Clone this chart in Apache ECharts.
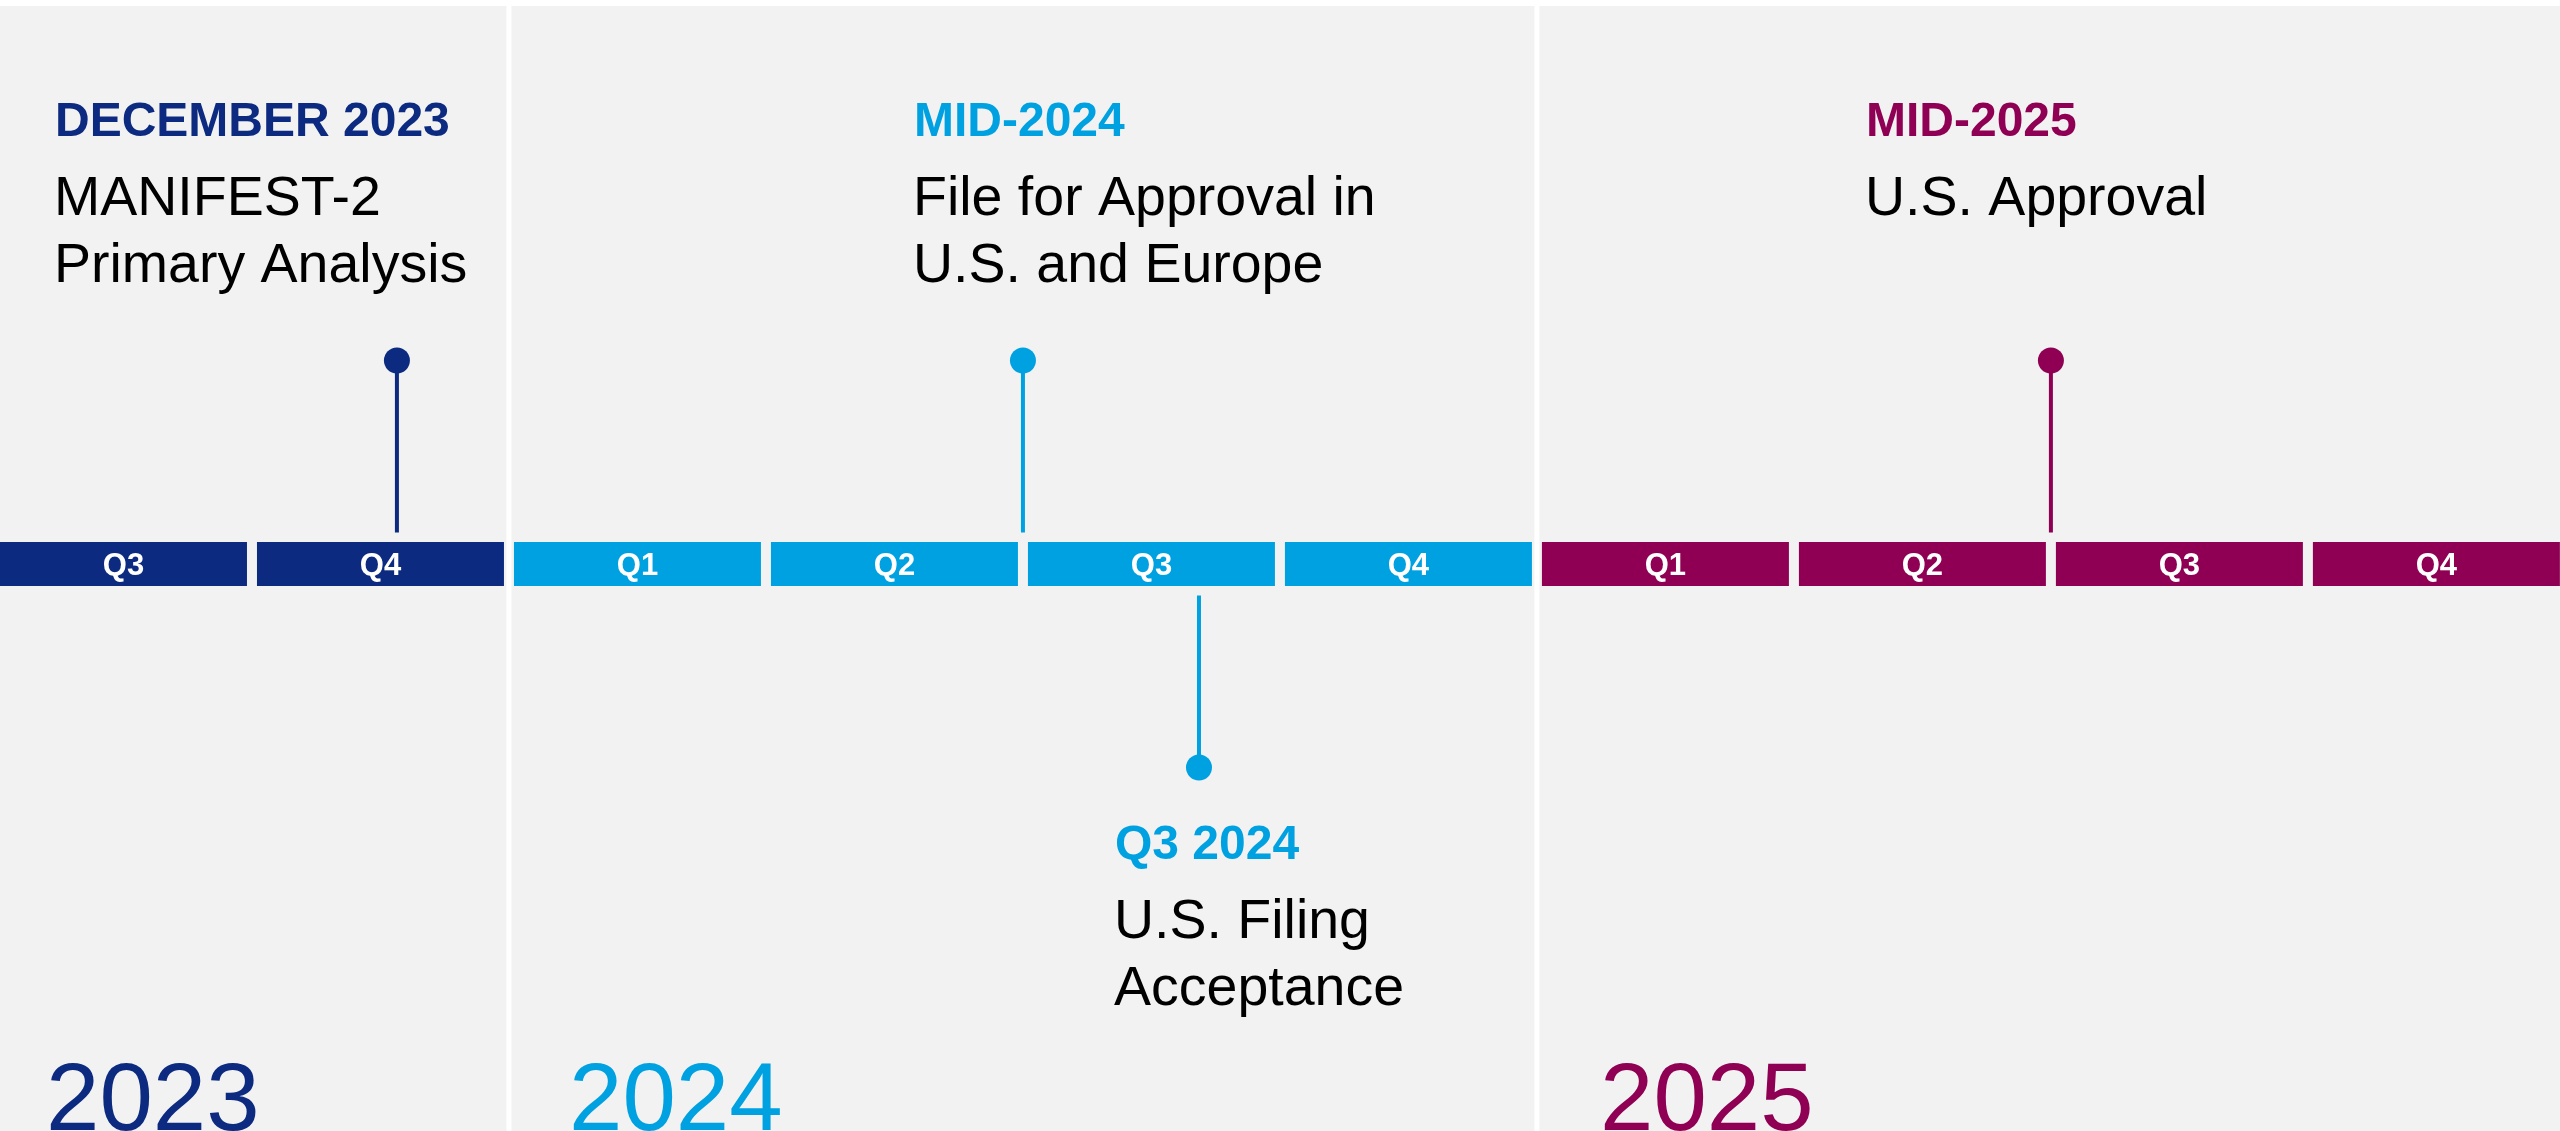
<!DOCTYPE html>
<html>
<head>
<meta charset="utf-8">
<script src="https://cdn.jsdelivr.net/npm/echarts@6/dist/echarts.min.js"></script>
<style>
  html, body { margin: 0; padding: 0; background: #ffffff; }
  #chart { width: 2560px; height: 1131px; }
</style>
</head>
<body>
<div id="chart"></div>
<script>
// ---------------- DATA ----------------
const YEARS = ['2023', '2024', '2025'];
const QUARTERS = ['Q3', 'Q4', 'Q1', 'Q2', 'Q3', 'Q4', 'Q1', 'Q2', 'Q3', 'Q4'];
const QUARTER_YEAR = [0, 0, 1, 1, 1, 1, 2, 2, 2, 2];           // index into YEARS
const MILESTONE_AT = [1.564, 4.0, 4.685, 8.0];                 // position in quarter units
const MILESTONE_SIDE = [1, 1, -1, 1];                          // 1 = above the bar, -1 = below
const MILESTONE_YEAR = [0, 1, 1, 2];                           // index into YEARS
const MILESTONE_HEAD = ['DECEMBER 2023', 'MID-2024', 'Q3 2024', 'MID-2025'];
const MILESTONE_BODY = [
  ['MANIFEST-2', 'Primary Analysis'],
  ['File for Approval in', 'U.S. and Europe'],
  ['U.S. Filing', 'Acceptance'],
  ['U.S. Approval']
];

// ---------------- STYLE / LAYOUT ----------------
const YEAR_COLORS = ['#0c2b80', '#00a1e1', '#8f0054'];
const BG = '#f2f2f2';
const FONT = '"Liberation Sans", Arial, Helvetica, sans-serif';
const MID_K = 0.29;   // baseline offset from middle, in em
// text block left x and header baseline (pixels)
const TEXT_LAYOUT = [
  { x: 55, base: 137 },
  { x: 914, base: 137 },
  { x: 1115, base: 860 },
  { x: 1866, base: 137 }
];
const YEAR_LABEL_LAYOUT = [{ x: 46 }, { x: 569 }, { x: 1600 }];

// ---------------- BUILD ----------------
const barData = QUARTERS.map((q, i) => [i, i + 1, i, QUARTER_YEAR[i]]);
const dividerData = [];
for (let i = 1; i < QUARTER_YEAR.length; i++) {
  if (QUARTER_YEAR[i] !== QUARTER_YEAR[i - 1]) dividerData.push([i, 0]);
}
const milestoneData = MILESTONE_AT.map((x, i) => [x, MILESTONE_SIDE[i], MILESTONE_YEAR[i]]);

const graphics = [];
// white top strip
graphics.push({ type: 'rect', left: 0, top: 0, shape: { width: 2560, height: 6 }, style: { fill: '#ffffff' }, z: 100 });

function textEl(x, baseline, text, size, weight, color) {
  return {
    type: 'text', z: 50,
    x: x, y: baseline - MID_K * size,
    style: {
      text: text, fill: color,
      font: weight + ' ' + size + 'px ' + FONT,
      align: 'left', verticalAlign: 'middle',
      textAlign: 'left', textVerticalAlign: 'middle'
    }
  };
}

MILESTONE_HEAD.forEach((h, i) => {
  const L = TEXT_LAYOUT[i];
  graphics.push(textEl(L.x, L.base, h, 48, 'bold', YEAR_COLORS[MILESTONE_YEAR[i]]));
  MILESTONE_BODY[i].forEach((line, j) => {
    graphics.push(textEl(L.x - 1, L.base + 79 + j * 67, line, 55.5, 'normal', '#000000'));
  });
});
YEARS.forEach((y, i) => {
  graphics.push(textEl(YEAR_LABEL_LAYOUT[i].x, 1131, y, 96, 'normal', YEAR_COLORS[i]));
});

const chart = echarts.init(document.getElementById('chart'), null, { renderer: 'canvas' });
chart.setOption({
  animation: false,
  backgroundColor: BG,
  grid: { left: 0, right: 0, top: 0, bottom: 0 },
  xAxis: { type: 'value', min: 0.0195, max: 9.981, show: false },
  yAxis: { type: 'value', min: -2.786, max: 2.771, show: false },
  graphic: graphics,
  series: [
    {
      type: 'custom',
      name: 'dividers',
      clip: false,
      data: dividerData,
      renderItem: function (params, api) {
        const p = api.coord([api.value(0), 0]);
        return {
          type: 'rect',
          shape: { x: p[0] - 2.5, y: 6, width: 5, height: 1131 },
          style: { fill: '#ffffff' }
        };
      },
      z: 1
    },
    {
      type: 'custom',
      name: 'quarters',
      data: barData,
      renderItem: function (params, api) {
        const a = api.coord([api.value(0), 0]);
        const b = api.coord([api.value(1), 0]);
        const col = YEAR_COLORS[api.value(3)];
        const x0 = a[0] + 5, x1 = b[0] - 5;
        return {
          type: 'group',
          children: [
            { type: 'rect', shape: { x: x0, y: a[1] - 22, width: x1 - x0, height: 44 }, style: { fill: col } },
            {
              type: 'text',
              x: (x0 + x1) / 2, y: a[1] + 2,
              style: {
                text: QUARTERS[api.value(2)], fill: '#ffffff',
                font: 'bold 31px ' + FONT,
                align: 'center', verticalAlign: 'middle',
                textAlign: 'center', textVerticalAlign: 'middle'
              }
            }
          ]
        };
      },
      z: 2
    },
    {
      type: 'custom',
      name: 'milestones',
      data: milestoneData,
      renderItem: function (params, api) {
        const m = api.coord([api.value(0), api.value(1)]);
        const base = api.coord([api.value(0), 0]);
        const side = api.value(1);
        const col = YEAR_COLORS[api.value(2)];
        const end = base[1] - side * 31.5;
        return {
          type: 'group',
          children: [
            { type: 'line', shape: { x1: m[0], y1: m[1], x2: m[0], y2: end }, style: { stroke: col, lineWidth: 4 } },
            { type: 'circle', shape: { cx: m[0], cy: m[1], r: 13 }, style: { fill: col } }
          ]
        };
      },
      z: 3
    }
  ]
});
</script>
</body>
</html>
